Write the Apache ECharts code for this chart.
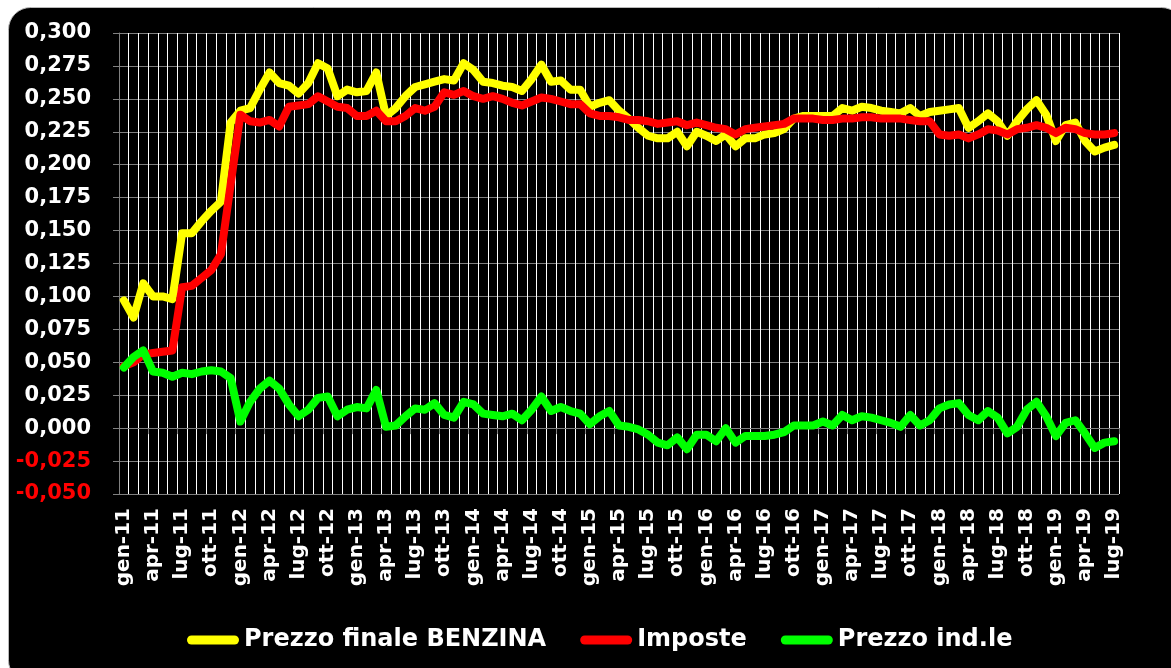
<!DOCTYPE html>
<html>
<head>
<meta charset="utf-8">
<script src="https://cdn.jsdelivr.net/npm/echarts@6/dist/echarts.min.js"></script>
<style>
html,body{margin:0;padding:0;background:#fff;overflow:hidden;}
#chart{width:1171px;height:668px;}
</style>
</head>
<body>
<div id="chart"></div>
<script>
// ---- data ----
const monthNames = ['gen','feb','mar','apr','mag','giu','lug','ago','set','ott','nov','dic'];
const years = ['11','12','13','14','15','16','17','18','19'];
const categories = [];
years.forEach(function (y, yi) {
  monthNames.forEach(function (m, mi) {
    if (yi < 8 || mi < 7) categories.push(m + '-' + y);
  });
});

const seriesNames = ['Prezzo finale BENZINA', 'Imposte', 'Prezzo ind.le'];

const prezzoFinale = [
  0.097,0.084,0.110,0.100,0.100,0.098,0.148,0.148,0.157,0.165,0.172,0.232,
  0.241,0.243,0.257,0.270,0.262,0.260,0.254,0.262,0.277,0.273,0.252,0.257,
  0.255,0.256,0.270,0.237,0.243,0.252,0.259,0.261,0.263,0.265,0.264,0.277,
  0.272,0.263,0.262,0.260,0.259,0.256,0.265,0.276,0.263,0.264,0.257,0.257,
  0.244,0.247,0.249,0.241,0.235,0.228,0.222,0.220,0.220,0.225,0.214,0.225,
  0.222,0.218,0.223,0.214,0.220,0.220,0.223,0.224,0.227,0.235,0.237,0.237,
  0.237,0.237,0.243,0.241,0.244,0.243,0.241,0.240,0.239,0.243,0.237,0.240,
  0.241,0.242,0.243,0.228,0.233,0.239,0.233,0.222,0.233,0.242,0.249,0.238,
  0.218,0.230,0.232,0.218,0.210,0.213,0.215
];

const imposte = [
  0.047,0.050,0.056,0.057,0.058,0.059,0.107,0.108,0.114,0.120,0.132,0.185,
  0.238,0.233,0.232,0.234,0.229,0.244,0.245,0.246,0.252,0.248,0.244,0.243,
  0.237,0.237,0.241,0.233,0.233,0.237,0.243,0.241,0.244,0.255,0.253,0.256,
  0.252,0.250,0.252,0.250,0.247,0.245,0.248,0.251,0.250,0.248,0.246,0.246,
  0.239,0.237,0.237,0.236,0.234,0.234,0.233,0.231,0.232,0.233,0.230,0.232,
  0.230,0.228,0.227,0.223,0.227,0.228,0.229,0.230,0.231,0.235,0.235,0.235,
  0.234,0.234,0.235,0.235,0.236,0.236,0.235,0.235,0.235,0.234,0.233,0.233,
  0.223,0.222,0.223,0.220,0.223,0.227,0.226,0.223,0.227,0.228,0.230,0.228,
  0.224,0.228,0.227,0.224,0.223,0.223,0.224
];

const prezzoIndustriale = [
  0.046,0.054,0.059,0.043,0.042,0.039,0.042,0.041,0.043,0.044,0.043,0.038,
  0.005,0.020,0.030,0.036,0.030,0.018,0.009,0.014,0.023,0.024,0.009,0.014,
  0.016,0.015,0.029,0.001,0.002,0.009,0.015,0.014,0.019,0.010,0.008,0.020,
  0.018,0.011,0.010,0.009,0.011,0.006,0.014,0.024,0.013,0.016,0.013,0.011,
  0.003,0.009,0.013,0.002,0.001,-0.001,-0.005,-0.011,-0.013,-0.007,-0.016,-0.005,
  -0.005,-0.010,0.000,-0.011,-0.006,-0.006,-0.006,-0.005,-0.003,0.002,0.002,0.002,
  0.005,0.002,0.010,0.006,0.009,0.008,0.006,0.004,0.001,0.010,0.002,0.006,
  0.015,0.018,0.019,0.010,0.006,0.013,0.008,-0.004,0.001,0.014,0.020,0.009,
  -0.006,0.004,0.006,-0.004,-0.015,-0.011,-0.010
];

const yMin = -0.05, yMax = 0.30, yStep = 0.025;

// ---- chart ----
const chart = echarts.init(document.getElementById('chart'), null, {renderer: 'canvas'});
const FONT = '"DejaVu Sans", Verdana, sans-serif';

function mkLine(name, data, color) {
  return {
    name: name, type: 'line', data: data,
    symbol: 'none', smooth: false,
    lineStyle: {color: color, width: 8, cap: 'round', join: 'round'},
    itemStyle: {color: color},
    emphasis: {disabled: true},
    animation: false
  };
}

chart.setOption({
  backgroundColor: '#ffffff',
  animation: false,
  graphic: [{
    type: 'rect', z: -10, silent: true,
    shape: {x: 8.5, y: 7.5, width: 1175, height: 675, r: 22},
    style: {fill: '#000000', stroke: '#b8b8b8', lineWidth: 1}
  }],
  grid: {left: 119, top: 33, width: 1000, height: 461, containLabel: false},
  legend: {
    left: 182, top: 623,
    itemWidth: 52, itemHeight: 9, itemGap: 34,
    icon: 'path://M4.5,0 L47.5,0 A4.5,4.5 0 0 1 47.5,9 L4.5,9 A4.5,4.5 0 0 1 4.5,0 Z',
    textStyle: {color: '#ffffff', fontFamily: FONT, fontWeight: 'bold', fontSize: 24},
    data: seriesNames
  },
  xAxis: {
    type: 'category', data: categories, boundaryGap: true,
    axisLine: {show: true, lineStyle: {color: '#808080', width: 1}},
    axisTick: {show: true, interval: 2, length: 6, inside: false, lineStyle: {color: '#808080'}},
    axisLabel: {
      interval: 2, rotate: 90, margin: 14,
      color: '#ffffff', fontFamily: FONT, fontWeight: 'bold', fontSize: 20,
      padding: [12, 0, 0, 0]
    },
    splitLine: {show: true, interval: 0, lineStyle: {color: '#ffffff', width: 1}}
  },
  yAxis: {
    type: 'value', min: yMin, max: yMax, interval: yStep,
    axisLine: {show: true, lineStyle: {color: '#808080', width: 1}},
    axisTick: {show: true, length: 6, lineStyle: {color: '#808080'}},
    axisLabel: {
      margin: 28,
      fontFamily: FONT, fontWeight: 'bold', fontSize: 21,
      formatter: function (v) { return Number(v).toFixed(3).replace('.', ','); },
      color: function (v) { return parseFloat(v) < -1e-9 ? '#ff0000' : '#ffffff'; }
    },
    splitLine: {show: true, lineStyle: {color: '#808080', width: 1}}
  },
  series: [
    mkLine(seriesNames[0], prezzoFinale, '#ffff00'),
    mkLine(seriesNames[1], imposte, '#ff0000'),
    mkLine(seriesNames[2], prezzoIndustriale, '#00ff00')
  ]
});
</script>
</body>
</html>
